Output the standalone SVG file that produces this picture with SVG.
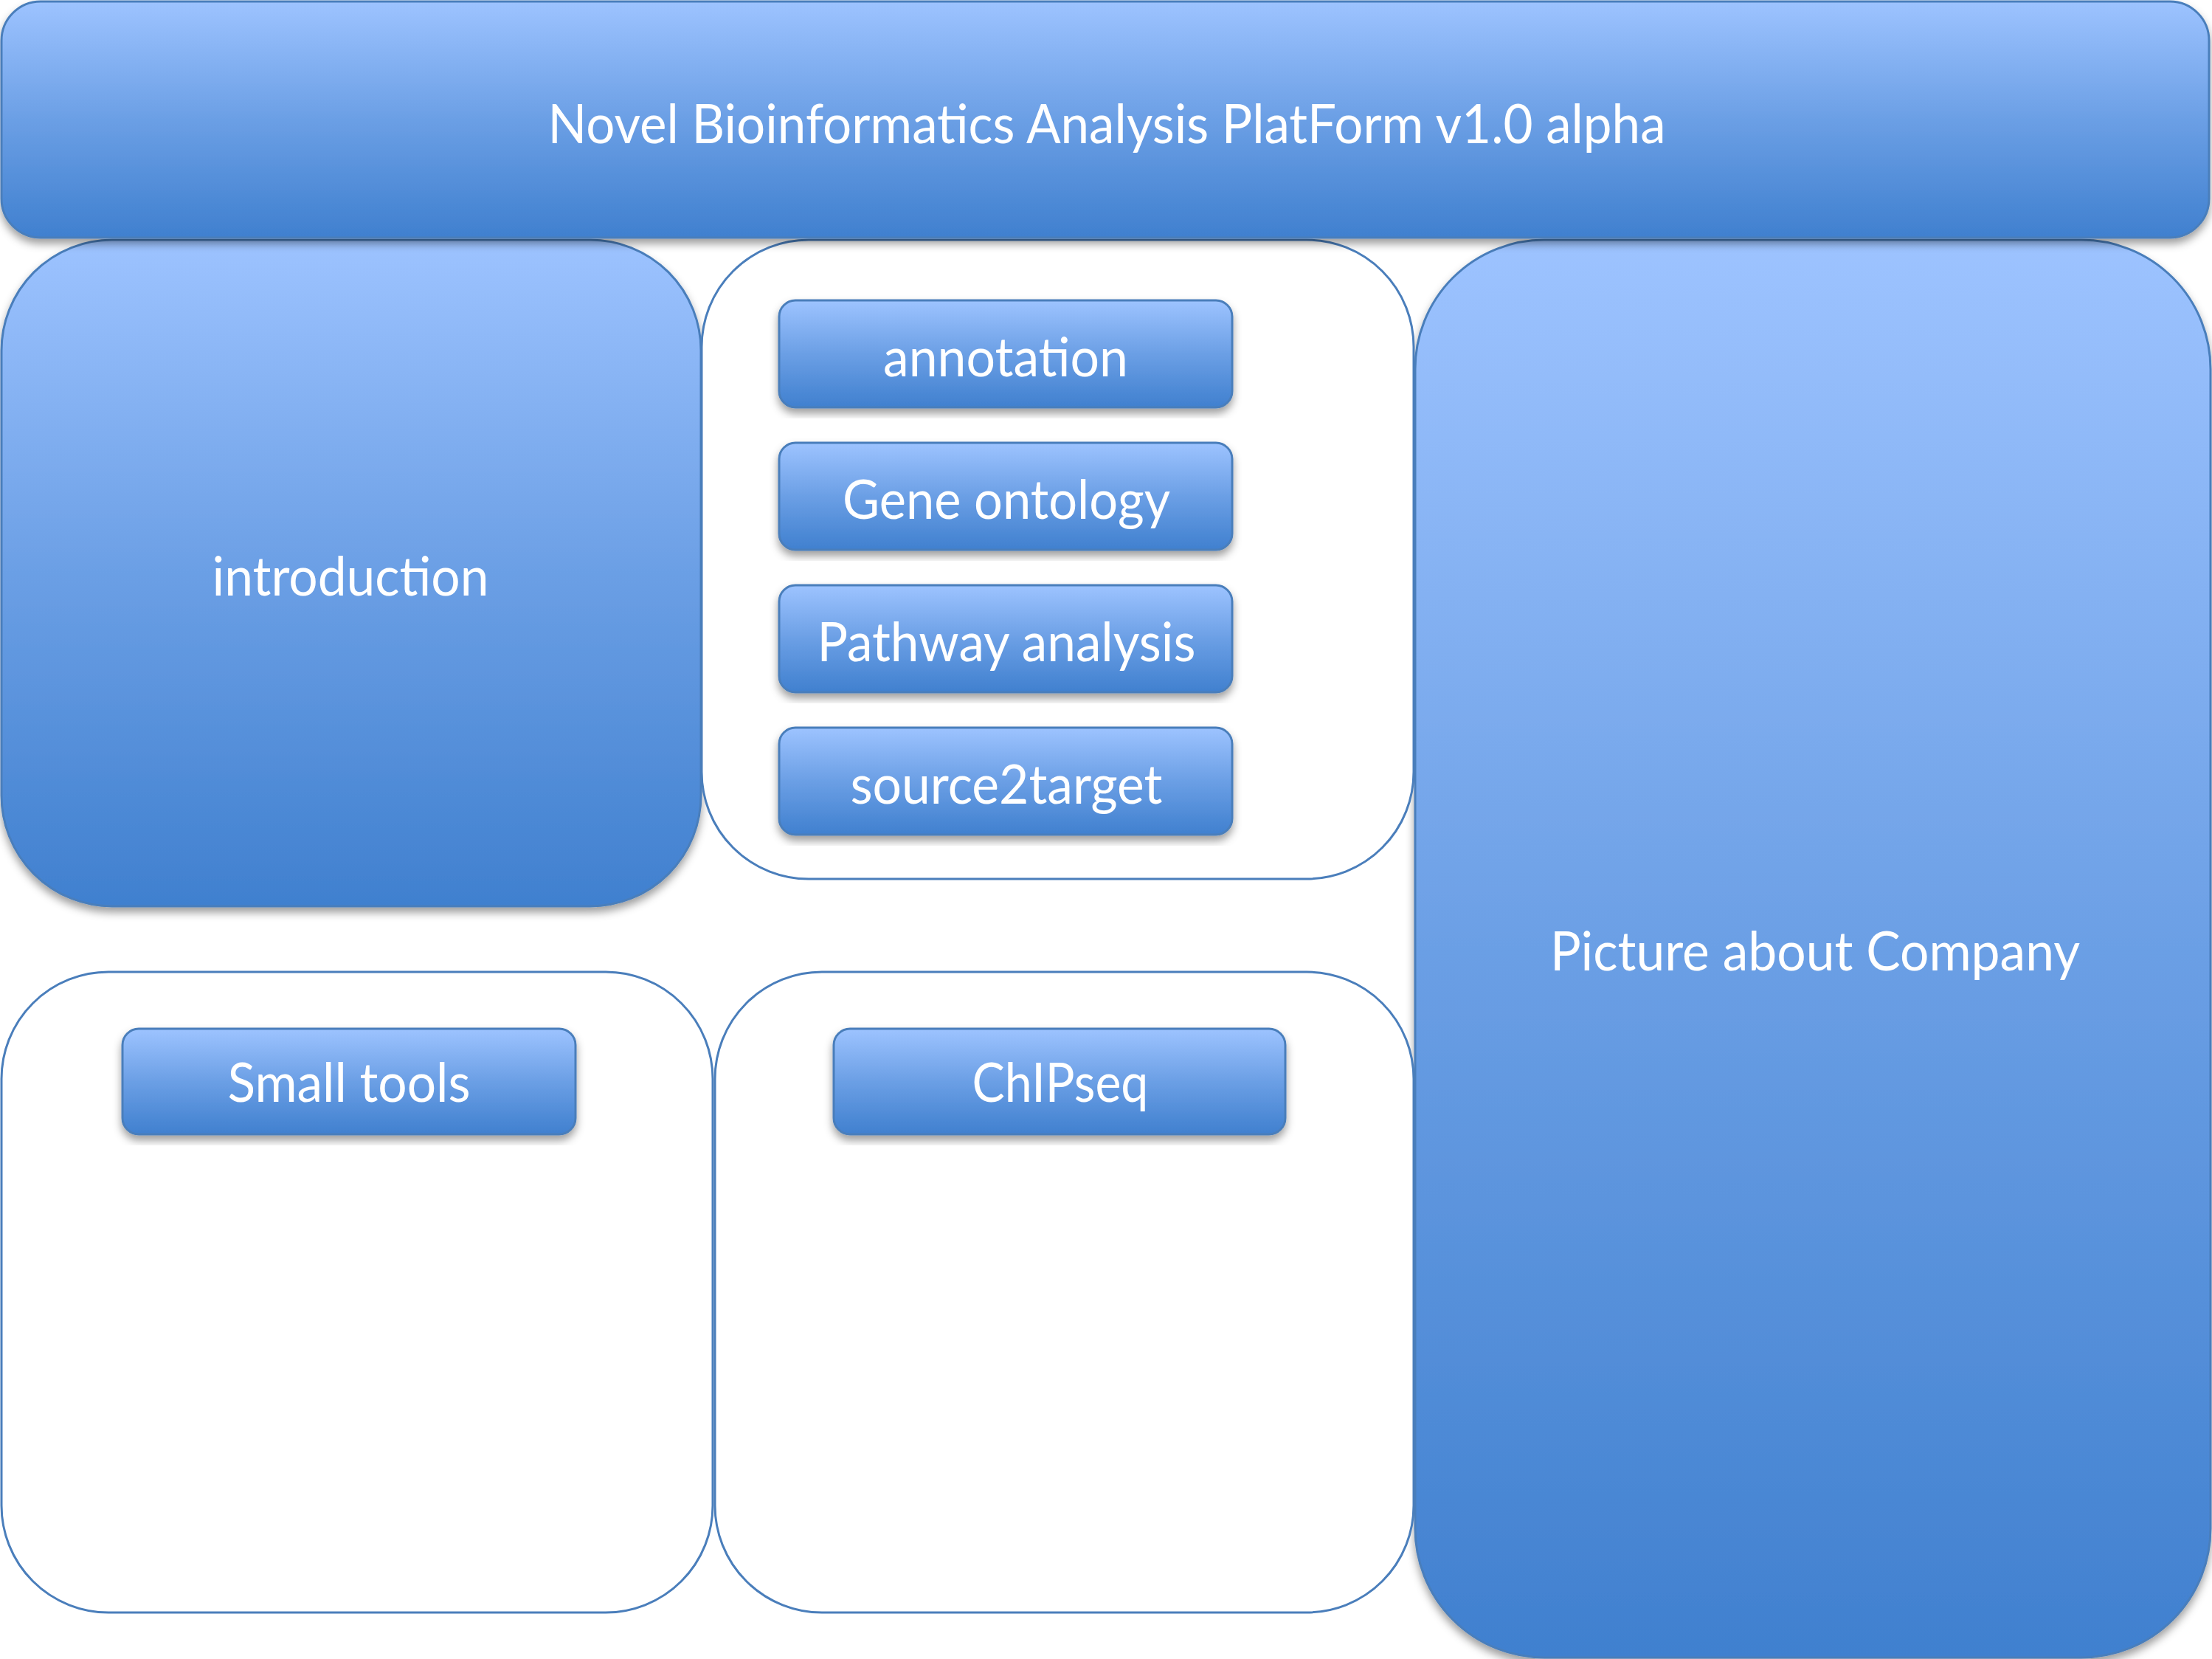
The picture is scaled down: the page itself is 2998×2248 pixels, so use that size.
<svg xmlns="http://www.w3.org/2000/svg" width="2998" height="2248" viewBox="0 0 2998 2248">
<defs>
<linearGradient id="blue" x1="0" y1="0" x2="0" y2="1">
<stop offset="0" stop-color="#9DC3FF"/>
<stop offset="0.5" stop-color="#6B9FE5"/>
<stop offset="1" stop-color="#4080CF"/>
</linearGradient>
<filter id="shadow" x="-5%" y="-5%" width="110%" height="115%">
<feDropShadow dx="0" dy="7" stdDeviation="6" flood-color="#000" flood-opacity="0.38"/>
</filter>
</defs>
<style>
.fill{fill:url(#blue);stroke:#4A7EBB;stroke-width:3;filter:url(#shadow)}
.white{fill:#FFFFFF;stroke:#4A7EBB;stroke-width:3}
.lbl{font-family:Lato,"Open Sans","Liberation Sans",sans-serif;fill:#FFFFFF;text-anchor:middle;font-size:74px}
</style>
<g id="picture-about-company">
<rect class="fill" x="1918" y="325" width="1078" height="1921" rx="175" ry="175"/>
<text class="lbl" x="2460" y="1315" textLength="718" lengthAdjust="spacingAndGlyphs">Picture about Company</text>
</g>
<g id="introduction">
<rect class="fill" x="2" y="325" width="948" height="903" rx="150" ry="150"/>
<text class="lbl" x="475" y="807" textLength="375" lengthAdjust="spacingAndGlyphs">introduction</text>
</g>
<g id="analysis-panel">
<rect class="white" x="951" y="325" width="965" height="866" rx="145" ry="145"/>
</g>
<g id="annotation">
<rect class="fill" x="1056" y="407" width="614" height="145" rx="22" ry="22"/>
<text class="lbl" x="1363" y="510" textLength="332" lengthAdjust="spacingAndGlyphs">annotation</text>
</g>
<g id="gene-ontology">
<rect class="fill" x="1056" y="600" width="614" height="145" rx="22" ry="22"/>
<text class="lbl" x="1364" y="703" textLength="444" lengthAdjust="spacingAndGlyphs">Gene ontology</text>
</g>
<g id="pathway-analysis">
<rect class="fill" x="1056" y="793" width="614" height="145" rx="22" ry="22"/>
<text class="lbl" x="1364" y="896" textLength="513" lengthAdjust="spacingAndGlyphs">Pathway analysis</text>
</g>
<g id="source2target">
<rect class="fill" x="1056" y="986" width="614" height="145" rx="22" ry="22"/>
<text class="lbl" x="1364" y="1089" textLength="423" lengthAdjust="spacingAndGlyphs">source2target</text>
</g>
<g id="small-tools-panel">
<rect class="white" x="2" y="1317" width="964" height="868" rx="145" ry="145"/>
</g>
<g id="chipseq-panel">
<rect class="white" x="969" y="1317" width="947" height="868" rx="145" ry="145"/>
</g>
<g id="small-tools">
<rect class="fill" x="166" y="1394" width="614" height="143" rx="22" ry="22"/>
<text class="lbl" x="473" y="1493" textLength="329" lengthAdjust="spacingAndGlyphs">Small tools</text>
</g>
<g id="chipseq">
<rect class="fill" x="1130" y="1394" width="612" height="143" rx="22" ry="22"/>
<text class="lbl" x="1437" y="1493" textLength="239" lengthAdjust="spacingAndGlyphs">ChIPseq</text>
</g>
<g id="title">
<rect class="fill" x="2" y="2" width="2992" height="320" rx="53" ry="53"/>
<text class="lbl" x="1500" y="194" textLength="1515" lengthAdjust="spacingAndGlyphs">Novel Bioinformatics Analysis PlatForm v1.0 alpha</text>
</g>
<g id="connectors"></g>
</svg>
